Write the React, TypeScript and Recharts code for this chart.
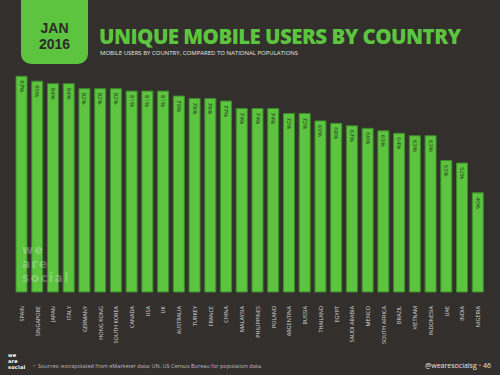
import * as React from 'react';
import { BarChart, Bar, XAxis, YAxis, LabelList } from 'recharts';

const countries = [
  'SPAIN', 'SINGAPORE', 'JAPAN', 'ITALY', 'GERMANY', 'HONG KONG', 'SOUTH KOREA', 'CANADA', 'USA', 'UK',
  'AUSTRALIA', 'TURKEY', 'FRANCE', 'CHINA', 'MALAYSIA', 'PHILIPPINES', 'POLAND', 'ARGENTINA', 'RUSSIA', 'THAILAND',
  'EGYPT', 'SAUDI ARABIA', 'MEXICO', 'SOUTH AFRICA', 'BRAZIL', 'VIETNAM', 'INDONESIA', 'UAE', 'INDIA', 'NIGERIA',
];

const mobileShare = [
  87, 85, 84, 84, 82, 82, 82, 81, 81, 81,
  79, 78, 78, 77, 74, 74, 74, 72, 72, 69,
  68, 67, 66, 65, 64, 63, 63, 53, 52, 40,
];

const data = countries.map((name, i) => ({ name, value: mobileShare[i] }));

const BG = '#332f2c';
const GREEN = '#5cc43f';
const FONT = '"Open Sans", Lato, sans-serif';
const LOGO_FONT = '"DejaVu Sans", sans-serif';

const CountryTick = (props: any) => {
  const { x, y, payload } = props;
  return (
    <text
      x={x}
      y={y}
      transform={`rotate(-90, ${x}, ${y})`}
      dx={-6}
      dy={2}
      textAnchor="end"
      fontSize={5.5}
      fill="#d8d8d8"
      fontFamily={FONT}
    >
      {payload.value}
    </text>
  );
};

const ValueLabel = (props: any) => {
  const { x, y, width, value } = props;
  const cx = x + width / 2;
  const ty = y + 4;
  return (
    <text
      x={cx}
      y={ty}
      transform={`rotate(90, ${cx}, ${ty})`}
      dy={2}
      textAnchor="start"
      fontSize={6}
      fill="#24361a"
      fontFamily={FONT}
    >
      {value}%
    </text>
  );
};

// stacked "we / are / social" logo, one line per div
const Logo = ({ left, top, size, step, color, spacing }: any) => (
  <>
    {['we', 'are', 'social'].map((w, i) => (
      <div
        key={w}
        style={{
          position: 'absolute',
          left,
          top: top + i * step,
          fontFamily: LOGO_FONT,
          fontWeight: 700,
          fontSize: size,
          lineHeight: `${step}px`,
          letterSpacing: spacing,
          color,
          whiteSpace: 'nowrap',
        }}
      >
        {w}
      </div>
    ))}
  </>
);

export default function App() {
  return (
    <div style={{ position: 'absolute', left: 0, top: 0, width: 500, height: 375, background: BG, overflow: 'hidden' }}>
      <BarChart
        width={500}
        height={375}
        data={data}
        margin={{ top: 44, right: 14, left: 14, bottom: 13 }}
        barSize={11}
      >
        <XAxis dataKey="name" interval={0} axisLine={false} tickLine={false} height={70} tick={<CountryTick />} />
        <YAxis hide domain={[0, 100]} />
        <Bar dataKey="value" fill={GREEN} stroke="#3e8a2b" strokeWidth={1} isAnimationActive={false}>
          <LabelList dataKey="value" content={<ValueLabel />} />
        </Bar>
      </BarChart>

      {/* faint watermark over bars */}
      <Logo left={22} top={243} size={12} step={14} color="rgba(255,255,255,0.28)" spacing={1.5} />

      {/* header */}
      <div style={{ position: 'absolute', left: 21, top: 0, width: 67, height: 64, background: GREEN, borderRadius: '0 0 10px 10px' }} />
      {['JAN', '2016'].map((t, i) => (
        <div
          key={t}
          style={{
            position: 'absolute', left: 21, top: 20 + i * 16, width: 67, textAlign: 'center',
            fontFamily: '"Liberation Sans", Arial, sans-serif', fontWeight: 700, fontSize: 14, lineHeight: '16px', color: '#2d2a28',
          }}
        >
          {t}
        </div>
      ))}
      <div style={{ position: 'absolute', left: 99, top: 25, fontFamily: FONT, fontWeight: 800, fontSize: 20.5, lineHeight: '22px', color: GREEN, letterSpacing: -0.55, whiteSpace: 'nowrap' }}>
        UNIQUE MOBILE USERS BY COUNTRY
      </div>
      <div style={{ position: 'absolute', left: 100, top: 49, fontFamily: FONT, fontSize: 6, lineHeight: '8px', color: '#e6e6e6', whiteSpace: 'nowrap' }}>
        MOBILE USERS BY COUNTRY, COMPARED TO NATIONAL POPULATIONS
      </div>

      {/* footer */}
      <Logo left={8} top={352} size={5} step={6} color="#ffffff" spacing={0.2} />
      <div style={{ position: 'absolute', left: 33, top: 362, fontFamily: FONT, fontSize: 5.5, lineHeight: '8px', color: '#bdbdbd', whiteSpace: 'nowrap' }}>
        <span style={{ color: '#e0823a' }}>•</span>&nbsp; Sources: extrapolated from eMarketer data; UN, US Census Bureau for population data.
      </div>
      <div style={{ position: 'absolute', right: 9, top: 361, fontFamily: FONT, fontSize: 7, lineHeight: '9px', color: '#e6e6e6', whiteSpace: 'nowrap' }}>
        @wearesocialsg <span style={{ color: '#e0823a' }}>•</span> 46
      </div>
    </div>
  );
}
